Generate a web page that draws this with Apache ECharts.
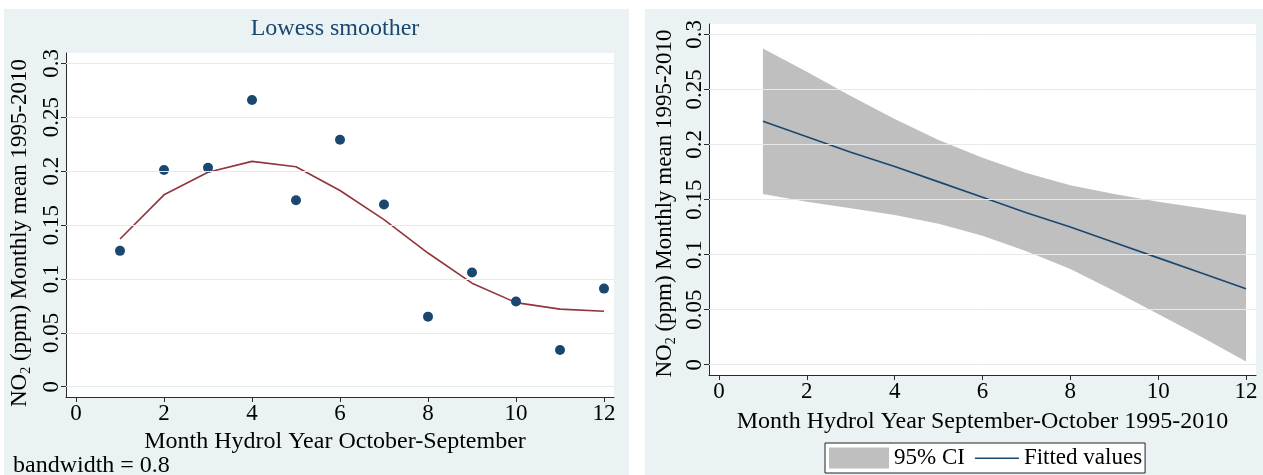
<!DOCTYPE html>
<html>
<head>
<meta charset="utf-8">
<title>NO2 monthly means 1995-2010</title>
<script src="https://cdn.jsdelivr.net/npm/echarts@6/dist/echarts.min.js"></script>
<style>
  html, body { margin: 0; padding: 0; background: #ffffff; }
  #chart { width: 1263px; height: 475px; }
</style>
</head>
<body>
<div id="chart"></div>
<script>
// Hydrological-year months
const months = [1, 2, 3, 4, 5, 6, 7, 8, 9, 10, 11, 12];

// Left panel: monthly NO2 means and their lowess smooth (bandwidth 0.8)
const no2Monthly = [0.126, 0.201, 0.203, 0.266, 0.173, 0.229, 0.169, 0.065, 0.106, 0.079, 0.034, 0.091];
const lowessFit  = [0.137, 0.178, 0.199, 0.209, 0.204, 0.182, 0.155, 0.124, 0.096, 0.078, 0.072, 0.070];

// Right panel: linear fit with its 95% confidence band
const linearFit = [0.221, 0.207, 0.193, 0.180, 0.166, 0.152, 0.138, 0.125, 0.111, 0.097, 0.083, 0.069];
const ciUpper   = [0.287, 0.266, 0.244, 0.223, 0.204, 0.188, 0.174, 0.163, 0.155, 0.148, 0.142, 0.136];
const ciLower   = [0.155, 0.148, 0.142, 0.136, 0.128, 0.117, 0.103, 0.087, 0.067, 0.046, 0.025, 0.003];

// Axis ticks and their labels
const xTicks = [0, 2, 4, 6, 8, 10, 12];
const yTicks = [0, 0.05, 0.1, 0.15, 0.2, 0.25, 0.3];
const yTickLabels = ['0', '0.05', '0.1', '0.15', '0.2', '0.25', '0.3'];

// Texts
const leftTitle = 'Lowess smoother';
const leftNote = 'bandwidth = 0.8';
const leftXName = 'Month Hydrol Year October-September';
const rightXName = 'Month Hydrol Year September-October 1995-2010';
const yName = '{n|NO}{s|2}{n| (ppm) Monthly mean 1995-2010}';
const ciName = '95% CI';
const fitName = 'Fitted values';

const SERIF = "'Liberation Serif', 'Times New Roman', 'DejaVu Serif', serif";
const NAVY = '#1a476f';
const MAROON = '#90353b';
const BAND = '#bfbfbf';
const PANEL_BG = '#eaf2f3';
const GRID_LINE = '#e4eaed';
const AXIS_COLOR = '#2b2b2b';

const pair = (xs, ys) => xs.map((x, i) => [x, ys[i]]);

// plot regions (white areas) in pixels
const leftBox  = { x: 66,  y: 53, w: 548, h: 344 };
const rightBox = { x: 709, y: 24, w: 547, h: 351 };

// the white plot region is a bit larger than the data range
function padRange(lo, hi, sizePx, padPx) {
  const p = padPx * (hi - lo) / (sizePx - 2 * padPx);
  return [lo - p, hi + p];
}

function labelFor(v) {
  const i = yTicks.findIndex(t => Math.abs(t - v) < 1e-9);
  return i >= 0 ? yTickLabels[i] : '';
}

function xAxisFor(gridIndex, b, name, nameGap, namePad) {
  const r = padRange(0, 12, b.w, 10);
  return {
    type: 'value', gridIndex, min: r[0], max: r[1],
    name, nameLocation: 'middle', nameGap,
    nameTextStyle: { fontFamily: SERIF, fontSize: 24, color: '#000', padding: namePad },
    axisLine: { show: true, onZero: false, lineStyle: { color: AXIS_COLOR, width: 1 } },
    axisTick: { show: true, length: 5, inside: false, customValues: xTicks, lineStyle: { color: AXIS_COLOR } },
    axisLabel: { show: true, customValues: xTicks, margin: 5, fontFamily: SERIF, fontSize: 23, color: '#000',
                 formatter: v => String(v) },
    splitLine: { show: false }
  };
}

function yAxisFor(gridIndex, b, nameGap, namePad) {
  const r = padRange(0, 0.3, b.h, 10.3);
  return {
    type: 'value', gridIndex, min: r[0], max: r[1],
    name: yName, nameLocation: 'middle', nameGap, nameRotate: 90,
    nameTextStyle: {
      fontFamily: SERIF, fontSize: 23, color: '#000', padding: namePad,
      rich: {
        n: { fontFamily: SERIF, fontSize: 23, color: '#000', lineHeight: 26 },
        s: { fontFamily: SERIF, fontSize: 14, color: '#000', lineHeight: 26, verticalAlign: 'bottom', padding: [9, 0, 0, 0] }
      }
    },
    axisLine: { show: true, onZero: false, lineStyle: { color: AXIS_COLOR, width: 1 } },
    axisTick: { show: true, length: 5, inside: false, customValues: yTicks, lineStyle: { color: AXIS_COLOR } },
    axisLabel: { show: true, customValues: yTicks, rotate: 90, margin: 3, fontFamily: SERIF, fontSize: 23, color: '#000',
                 formatter: v => labelFor(v) },
    splitLine: { show: false }
  };
}

const gridLines = {
  silent: true, symbol: 'none', animation: false,
  label: { show: false },
  lineStyle: { color: GRID_LINE, width: 1, type: 'solid' },
  emphasis: { disabled: true },
  data: yTicks.map(v => ({ yAxis: v }))
};

// confidence band: one polygon through the upper bounds and back along the lower bounds
function renderBand(params, api) {
  if (params.dataIndex !== 0) return null;
  const upper = months.map((m, i) => api.coord([m, ciUpper[i]]));
  const lower = months.map((m, i) => api.coord([m, ciLower[i]])).reverse();
  return {
    type: 'polygon',
    shape: { points: upper.concat(lower) },
    style: { fill: BAND, stroke: null }
  };
}

const option = {
  animation: false,
  backgroundColor: '#ffffff',
  graphic: [
    { type: 'rect', z: -10, silent: true, shape: { x: 4, y: 9, width: 625, height: 466 }, style: { fill: PANEL_BG } },
    { type: 'rect', z: -10, silent: true, shape: { x: 645, y: 9, width: 618, height: 466 }, style: { fill: PANEL_BG } }
  ],
  title: [
    { text: leftTitle, left: 330, top: 12, textAlign: 'center',
      textStyle: { fontFamily: SERIF, fontSize: 24, fontWeight: 'normal', color: NAVY } },
    { text: leftNote, left: 8, top: 449,
      textStyle: { fontFamily: SERIF, fontSize: 24, fontWeight: 'normal', color: '#000' } }
  ],
  legend: {
    show: true, left: 825, top: 443, orient: 'horizontal',
    padding: [3, 3, 3, 4], itemGap: -6, itemWidth: 60, itemHeight: 21,
    backgroundColor: '#ffffff', borderColor: '#222', borderWidth: 1, borderRadius: 0,
    selectedMode: false,
    textStyle: { fontFamily: SERIF, fontSize: 23, color: '#000', lineHeight: 24 },
    data: [
      { name: ciName, icon: 'rect', itemStyle: { color: BAND, borderWidth: 0 } },
      { name: fitName, icon: 'path://M0,0 M60,21 M16,10 L60,10 L60,11.4 L16,11.4 Z',
        itemStyle: { color: NAVY, borderWidth: 0 }, lineStyle: { width: 0 } }
    ]
  },
  grid: [leftBox, rightBox].map(b => ({
    left: b.x, top: b.y, width: b.w, height: b.h,
    show: true, backgroundColor: '#ffffff', borderWidth: 0
  })),
  xAxis: [
    xAxisFor(0, leftBox, leftXName, 33, [0, 10, 0, 0]),
    xAxisFor(1, rightBox, rightXName, 35, 0)
  ],
  yAxis: [
    yAxisFor(0, leftBox, 33, [0, 16, 0, 0]),
    yAxisFor(1, rightBox, 31, [0, 8, 0, 0])
  ],
  series: [
    {
      name: 'lowess', type: 'line', xAxisIndex: 0, yAxisIndex: 0, z: 2,
      data: pair(months, lowessFit), symbol: 'none',
      lineStyle: { color: MAROON, width: 1.6 }, itemStyle: { color: MAROON },
      markLine: gridLines
    },
    {
      name: 'NO2 monthly mean', type: 'scatter', xAxisIndex: 0, yAxisIndex: 0, z: 3,
      data: pair(months, no2Monthly), symbol: 'circle', symbolSize: 10,
      itemStyle: { color: NAVY, opacity: 1 }
    },
    {
      name: 'gridlines', type: 'line', xAxisIndex: 1, yAxisIndex: 1, z: 1,
      data: [], symbol: 'none',
      markLine: gridLines
    },
    {
      name: ciName, type: 'custom', xAxisIndex: 1, yAxisIndex: 1, z: 2,
      data: months.map((m, i) => [m, ciLower[i], ciUpper[i]]),
      encode: { x: 0, y: [1, 2] },
      itemStyle: { color: BAND },
      renderItem: renderBand
    },
    {
      name: fitName, type: 'line', xAxisIndex: 1, yAxisIndex: 1, z: 3,
      data: pair(months, linearFit), symbol: 'none',
      lineStyle: { color: NAVY, width: 1.6 }, itemStyle: { color: NAVY }
    }
  ]
};

const chart = echarts.init(document.getElementById('chart'), null, { renderer: 'canvas' });
chart.setOption(option);
</script>
</body>
</html>
